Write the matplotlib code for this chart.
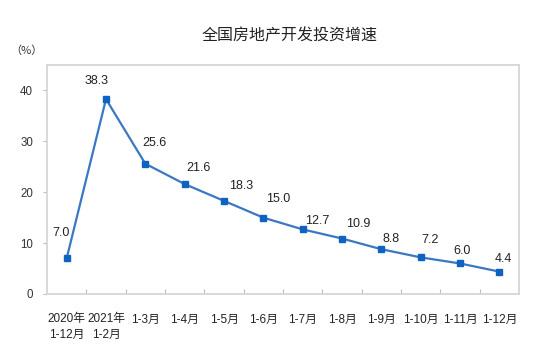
import matplotlib
matplotlib.use("Agg")
import matplotlib.pyplot as plt
from matplotlib.ticker import FixedLocator

# data
categories = ["2020年\n1-12月", "2021年\n1-2月", "1-3月", "1-4月", "1-5月", "1-6月",
              "1-7月", "1-8月", "1-9月", "1-10月", "1-11月", "1-12月"]
growth = [7.0, 38.3, 25.6, 21.6, 18.3, 15.0, 12.7, 10.9, 8.8, 7.2, 6.0, 4.4]
y_ticks = [0, 10, 20, 30, 40]

# label nudges in pixels (dx, dy), as placed in the original
label_offsets = [(-6, 25), (-9, 18), (9, 21), (14, 16), (17, 15), (15, 19),
                 (15, 8), (16, 15), (10, 10), (9, 17), (2, 12), (4, 13)]

latin_cjk = ["Liberation Sans", "Noto Sans CJK SC"]
plt.rcParams["font.family"] = latin_cjk

fig = plt.figure(figsize=(5.38, 3.51), dpi=100, facecolor="white")
ax = fig.add_axes([47 / 538, 57 / 351, 472 / 538, 229 / 351])

x = list(range(len(categories)))
ax.plot(x, growth, color="#3a78c2", linewidth=1.6,
        marker="s", markersize=4.2, markerfacecolor="#0e62c2",
        markeredgecolor="#0e62c2", zorder=3)

for xi, v, (dx, dy) in zip(x, growth, label_offsets):
    ax.annotate(f"{v:.1f}", (xi, v), xytext=(dx, dy), textcoords="offset pixels",
                ha="center", va="center", fontsize=9, color="#222222",
                family=latin_cjk)

ax.set_xlim(-0.5, len(categories) - 0.5)
ax.set_ylim(0, 45)

ax.set_yticks(y_ticks)
ax.tick_params(axis="y", direction="out", length=3, width=0.8, color="#bbbbbb",
               pad=7, labelsize=8.3, labelcolor="#333333")

ax.set_xticks(x)
ax.set_xticklabels(categories, fontsize=8.5, color="#222222", linespacing=1.4,
                   va="top")
ax.tick_params(axis="x", which="major", length=0, pad=14)
ax.xaxis.set_minor_locator(FixedLocator([i + 0.5 for i in range(len(categories) - 1)]))
ax.tick_params(axis="x", which="minor", direction="in", length=3.5, width=0.8,
               color="#bbbbbb")

for side in ["left", "right", "top", "bottom"]:
    ax.spines[side].set_color("#d6d6d6")
    ax.spines[side].set_linewidth(1.3)

fig.text(290 / 538, 1 - 36 / 351, "全国房地产开发投资增速", ha="center", va="center",
         fontsize=11.5, color="#222222", family=["Noto Sans CJK SC", "DejaVu Sans"])
fig.text(26 / 538, 1 - 51 / 351, "（%）", ha="center", va="center",
         fontsize=8, color="#333333", family=["Noto Sans CJK SC", "DejaVu Sans"])

plt.savefig("out.png", dpi=100, facecolor="white")
plt.close()
